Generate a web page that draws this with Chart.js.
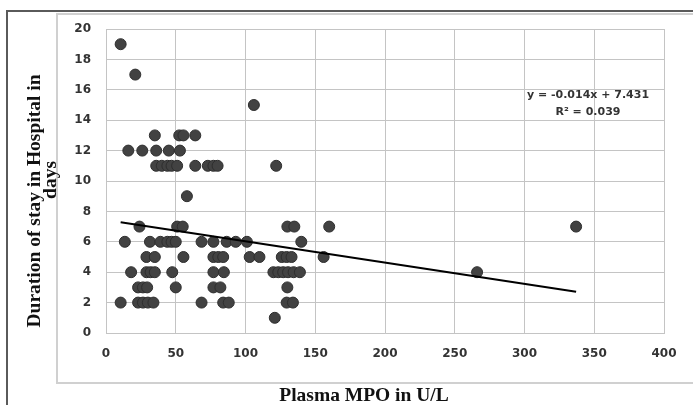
<!DOCTYPE html>
<html><head><meta charset="utf-8">
<script src="https://cdn.jsdelivr.net/npm/chart.js@4.4.0/dist/chart.umd.min.js"></script>
<style>
html,body{margin:0;padding:0;background:#fff;}
#wrap{position:relative;width:693px;height:405px;overflow:hidden;background:#fff;}
#outer{position:absolute;left:6px;top:10px;width:720px;height:440px;border-left:2px solid #5a5a5a;border-top:2px solid #5a5a5a;}
#inner{position:absolute;left:56px;top:13px;width:720px;height:367px;border:2px solid #d0d0d0;}
canvas{position:absolute;left:0;top:0;}
.t{position:absolute;font-family:"Liberation Serif","Times New Roman",serif;font-weight:bold;font-size:19.5px;color:#111;white-space:nowrap;text-align:center;line-height:20px;height:20px;}
.r{width:300px;transform:rotate(-90deg);}
#yt1{left:-116px;top:191px;}
#yt2{left:-100px;top:170px;}
#xt{left:264px;width:200px;top:385px;}
</style></head>
<body><div id="wrap"><div id="outer"></div><div id="inner"></div>
<canvas id="c" width="693" height="405" style="width:693px;height:405px"></canvas>
<div class="t r" id="yt1">Duration of stay in Hospital in</div>
<div class="t r" id="yt2">days</div>
<div class="t" id="xt">Plasma MPO in U/L</div></div>
<script>
// Plasma MPO (U/L) and duration of stay (days), paired by index
const mpo = [10.5, 21, 106,
  35, 52.5, 55.5, 64,
  16, 26, 36, 45, 53,
  36, 40, 44, 47, 51, 64, 73, 77, 80, 122,
  58,
  24, 51, 55, 130, 135, 160, 337,
  13.5, 31.5, 39, 44, 47, 50, 68.5, 77, 86.5, 93, 101, 140,
  29, 35, 55.5, 77, 80.5, 84, 103, 110, 126, 129.5, 133, 156,
  18, 29, 32, 35, 47.5, 77, 84.5, 120, 123.5, 127, 130.5, 134.5, 139, 266,
  23, 26.5, 29.5, 50, 77, 82, 130,
  10.5, 23, 26.5, 30, 34, 68.5, 84, 88, 129.5, 134,
  121];
const days = [19, 17, 15,
  13, 13, 13, 13,
  12, 12, 12, 12, 12,
  11, 11, 11, 11, 11, 11, 11, 11, 11, 11,
  9,
  7, 7, 7, 7, 7, 7, 7,
  6, 6, 6, 6, 6, 6, 6, 6, 6, 6, 6, 6,
  5, 5, 5, 5, 5, 5, 5, 5, 5, 5, 5, 5,
  4, 4, 4, 4, 4, 4, 4, 4, 4, 4, 4, 4, 4, 4,
  3, 3, 3, 3, 3, 3, 3,
  2, 2, 2, 2, 2, 2, 2, 2, 2, 2,
  1];
// Linear trend line endpoints (y = -0.014x + 7.431)
const trendX = [10.5, 337];
const trendY = [7.28, 2.71];
const xTicks = [0, 50, 100, 150, 200, 250, 300, 350, 400];
const yTicks = [0, 2, 4, 6, 8, 10, 12, 14, 16, 18, 20];
const eqLines = ['y = -0.014x + 7.431', 'R² = 0.039'];
const eqPos = {x: 345.5, y: [15.68, 14.56]};

const gridColor = '#c4c4c4';
const tickFont = {family: 'DejaVu Sans', size: 12, weight: 'bold'};

const eqPlugin = {
  id: 'eq',
  afterDatasetsDraw(chart) {
    const c = chart.ctx, xs = chart.scales.x, ys = chart.scales.y;
    c.save();
    c.font = 'bold 11px "DejaVu Sans"';
    c.fillStyle = '#333';
    c.textAlign = 'center';
    c.textBaseline = 'middle';
    eqLines.forEach((t, i) => c.fillText(t, xs.getPixelForValue(eqPos.x), ys.getPixelForValue(eqPos.y[i])));
    c.restore();
  }
};

new Chart(document.getElementById('c'), {
  type: 'scatter',
  data: {
    datasets: [
      {
        type: 'line',
        data: trendX.map((x, i) => ({x, y: trendY[i]})),
        borderColor: '#000', borderWidth: 2, pointRadius: 0, fill: false, order: 0
      },
      {
        data: mpo.map((x, i) => ({x, y: days[i]})),
        backgroundColor: '#424242', borderColor: '#2e2e2e', borderWidth: 1,
        pointRadius: 5.5, order: 1
      }
    ]
  },
  options: {
    responsive: false, animation: false, devicePixelRatio: 1,
    layout: {padding: {left: 0, top: 29, right: 29, bottom: 0}},
    plugins: {legend: {display: false}, tooltip: {enabled: false}},
    scales: {
      x: {
        type: 'linear', min: 0, max: 400,
        afterBuildTicks: s => { s.ticks = xTicks.map(v => ({value: v})); },
        afterFit: s => { s.height = 72; },
        grid: {color: gridColor, drawTicks: false},
        border: {color: gridColor},
        ticks: {padding: 14, font: tickFont, color: '#333', maxRotation: 0}
      },
      y: {
        type: 'linear', min: 0, max: 20,
        afterBuildTicks: s => { s.ticks = yTicks.map(v => ({value: v})); },
        afterFit: s => { s.width = 106; },
        grid: {color: gridColor, drawTicks: false},
        border: {color: gridColor},
        ticks: {padding: 15, font: tickFont, color: '#333'}
      }
    }
  },
  plugins: [eqPlugin]
});
</script>
</body></html>
